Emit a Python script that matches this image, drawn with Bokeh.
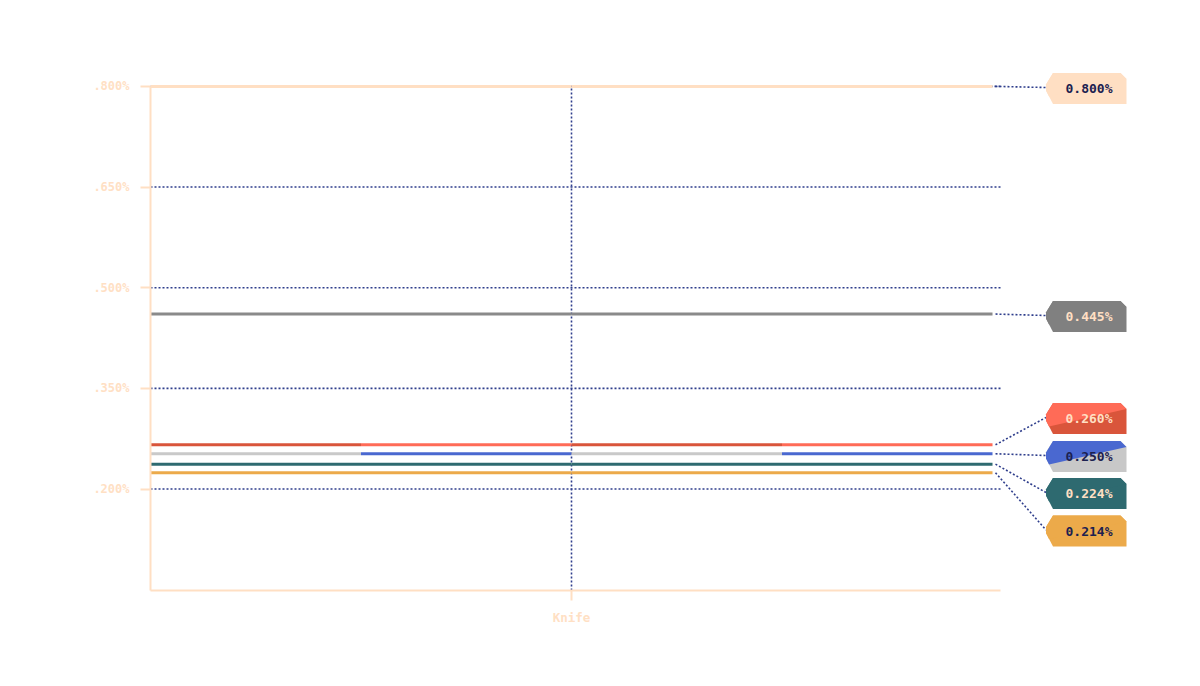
from bokeh.plotting import figure
from bokeh.models import Range1d, FixedTicker
from bokeh.core.properties import value
from bokeh.embed import file_html
from bokeh.resources import INLINE

# ---------------- data ----------------
CATEGORIES = ["Knife"]
SERIES_VALUES = [0.800, 0.4607, 0.2659, 0.2525, 0.2370, 0.2241]
SERIES_LABELS = ["0.800%", "0.445%", "0.260%", "0.250%", "0.224%", "0.214%"]
Y_TICKS = [0.2, 0.35, 0.5, 0.65, 0.8]
Y_TICK_LABELS = [".200%", ".350%", ".500%", ".650%", ".800%"]

# ---------------- styles ----------------
PEACH = "#FFDFC3"
PEACH_TXT = "#FFE0C4"
NAVY = "#1C2150"
DOT = "#2F3E8C"
LINE_A = [PEACH, "#8A8A8A", "#D9553B", "#C9C9C9", "#2E6A70", "#ECAA4A"]
LINE_B = [PEACH, "#8A8A8A", "#FF6B57", "#4A68D0", "#2E6A70", "#ECAA4A"]
BADGE_UPPER = [PEACH, "#808080", "#FF6B57", "#4A68D0", "#2E6A70", "#ECAA4A"]
BADGE_LOWER = [PEACH, "#808080", "#D9553B", "#C8C8C8", "#2E6A70", "#ECAA4A"]
TEXT_COLORS = [NAVY, PEACH, PEACH, NAVY, PEACH, NAVY]
FONT = "DejaVu Sans Mono"

# label layout (page pixel centres of the badges, spread to avoid overlap)
LABEL_CENTER_PX = [88, 316, 418, 456, 493, 530.5]

# ---------------- layout helpers (page px <-> data) ----------------
X_LEFT_PX, X_SLOT_PX = 150.0, 842.0      # category slot spans 150..992
Y_REF_PX, Y_SCALE = 488.5, 671.0         # 0.2 sits at 488.5px, 671 px per unit


def xd(px):
    return -0.5 + (px - X_LEFT_PX) / X_SLOT_PX


def yd(px):
    return 0.2 + (Y_REF_PX - px) / Y_SCALE


W, H = 1184, 670
FRAME_L, FRAME_R, FRAME_T, FRAME_B = 150, 1150, 60, 590

p = figure(
    width=W, height=H,
    output_backend="svg", toolbar_location=None,
    x_range=Range1d(xd(FRAME_L), xd(FRAME_R)),
    y_range=Range1d(yd(FRAME_B), yd(FRAME_T)),
    min_border_left=FRAME_L, min_border_right=W - FRAME_R,
    min_border_top=FRAME_T, min_border_bottom=H - FRAME_B,
)
p.outline_line_color = None
p.background_fill_color = "white"
p.border_fill_color = "white"
p.xgrid.grid_line_color = None
p.ygrid.grid_line_color = None

# y axis
p.yaxis.ticker = FixedTicker(ticks=Y_TICKS)
p.yaxis.major_label_overrides = dict(zip(Y_TICKS, Y_TICK_LABELS))
p.yaxis.bounds = (yd(FRAME_B), max(Y_TICKS))
# x axis
cat_pos = list(range(len(CATEGORIES)))
p.xaxis.ticker = FixedTicker(ticks=cat_pos)
p.xaxis.major_label_overrides = dict(zip(cat_pos, CATEGORIES))
p.xaxis.bounds = (xd(FRAME_L), xd(1000))

for ax in (p.xaxis[0], p.yaxis[0]):
    ax.axis_line_color = PEACH
    ax.axis_line_width = 2
    ax.major_tick_line_color = PEACH
    ax.major_tick_line_width = 2
    ax.major_tick_in = 0
    ax.major_tick_out = 10
    ax.minor_tick_line_color = None
    ax.major_label_text_color = PEACH_TXT
    ax.major_label_text_font = FONT
    ax.major_label_text_font_style = "bold"
ax_y = p.yaxis[0]
ax_y.major_label_text_font_size = "12px"
ax_y.major_label_standoff = 11
ax_x = p.xaxis[0]
ax_x.major_label_text_font_size = "12.5px"
ax_x.major_label_standoff = 9

# grid lines (dotted), limited to the plotting area
p.segment(x0=[xd(FRAME_L)] * len(Y_TICKS), x1=[xd(1000)] * len(Y_TICKS),
          y0=Y_TICKS, y1=Y_TICKS, line_color=DOT, line_width=1.6, line_dash="2 2")
p.segment(x0=cat_pos, x1=cat_pos, y0=[yd(FRAME_B)] * len(cat_pos), y1=[max(Y_TICKS)] * len(cat_pos),
          line_color=DOT, line_width=1.6, line_dash="2 2")

# series lines: each spans the category slot, drawn in quarters (alternating colours)
sx0, sx1, sy, sc = [], [], [], []
for i, v in enumerate(SERIES_VALUES):
    for c in cat_pos:
        for q in range(4):
            a = c - 0.5 + q * 0.25
            sx0.append(a)
            sx1.append(a + 0.25)
            sy.append(v)
            sc.append(LINE_A[i] if q % 2 == 0 else LINE_B[i])
p.segment(x0=sx0, x1=sx1, y0=sy, y1=sy, line_color=sc, line_width=3, line_cap="butt")

# connectors + badges
L, R = 1045.5, 1126.0
cx0, cx1, cy0, cy1 = [], [], [], []
full_xs, full_ys, full_c = [], [], []
up_xs, up_ys, up_c = [], [], []
tx, ty = [], []
for i, v in enumerate(SERIES_VALUES):
    c = LABEL_CENTER_PX[i]
    T, B = c - 15.5, c + 15.5
    cx0.append(xd(995)); cx1.append(xd(L))
    cy0.append(v); cy1.append(yd(c - 1))
    full = [(L + 7, T), (R - 6, T), (R, T + 6), (R, B), (L + 7, B), (L, c + 2), (L, c - 4)]
    upper = [(L + 7, T), (R - 6, T), (R, T + 6), (L + 3, c + 8), (L, c + 2), (L, c - 4)]
    full_xs.append([xd(a) for a, _ in full]); full_ys.append([yd(b) for _, b in full])
    full_c.append(BADGE_LOWER[i])
    up_xs.append([xd(a) for a, _ in upper]); up_ys.append([yd(b) for _, b in upper])
    up_c.append(BADGE_UPPER[i])
    tx.append(xd(1088.5)); ty.append(yd(c))

p.segment(x0=cx0, x1=cx1, y0=cy0, y1=cy1, line_color=DOT, line_width=1.6, line_dash="2 2")
p.patches(xs=full_xs, ys=full_ys, fill_color=full_c, line_color=None)
p.patches(xs=up_xs, ys=up_ys, fill_color=up_c, line_color=None)
p.text(x=tx, y=ty, text=SERIES_LABELS, text_color=TEXT_COLORS,
       text_font=value(FONT), text_font_style="bold", text_font_size="13px",
       text_align="center", text_baseline="middle")

open("out.html", "w").write(file_html(p, INLINE))
